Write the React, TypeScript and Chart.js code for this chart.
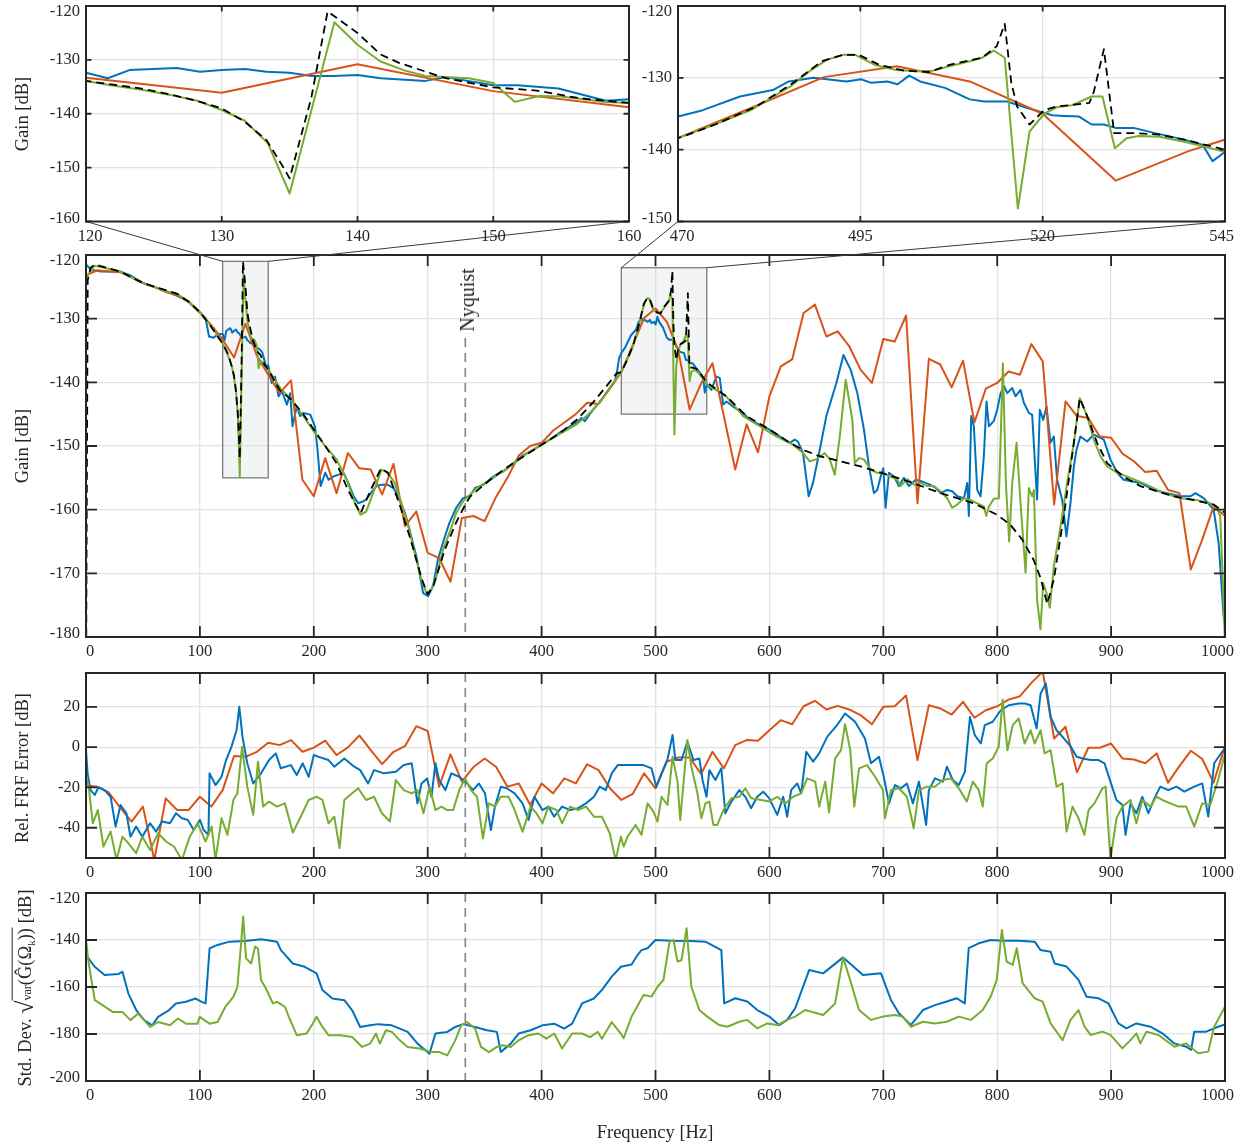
import React, { useEffect, useRef } from "react";
import { Chart, registerables } from "chart.js";

Chart.register(...registerables);

type Pt = [number, number];

const PAGE_W = 1245;
const PAGE_H = 1146;
const SERIF = '"Liberation Serif", "Times New Roman", Times, serif';
const INK = "#262626";
const GRID = "#e2e2e2";
const BLUE = "#0072BD";
const ORANGE = "#D95319";
const GREEN = "#77AC30";
const BLACK = "#000000";
const NYQUIST_HZ = 333;

// ---------- tick labels ----------
const freqTicks = [0, 100, 200, 300, 400, 500, 600, 700, 800, 900, 1000];
const gainTicks = [-180, -170, -160, -150, -140, -130, -120];
const errTicks = [-40, -20, 0, 20];
const stdTicks = [-200, -180, -160, -140, -120];
const zoomLeftFreqTicks = [120, 130, 140, 150, 160];
const zoomLeftGainTicks = [-160, -150, -140, -130, -120];
const zoomRightFreqTicks = [470, 495, 520, 545];
const zoomRightGainTicks = [-150, -140, -130, -120];

// zoom rectangles drawn on the main gain panel [f0, f1, gainLow, gainHigh]
const zoomRects: [number, number, number, number][] = [
  [120, 160, -155, -121],
  [470, 545, -145, -122],
];

// ---------- main gain panel data [Hz, dB] ----------
const trueGain: Pt[] = [
  [0, -190], [1.5, -124], [4, -122], [8, -121.5], [30, -122.6], [50, -124.4], [80, -126.1], [90, -127.3],
  [100, -129], [110, -131.3], [116, -132.9], [120, -133.9], [122, -134.6], [124, -135.3], [126, -136.3],
  [128, -137.5], [130, -139], [131.7, -141.5], [133.3, -144.9], [134.5, -149.8], [135, -152], [136.6, -137],
  [137.8, -121], [140, -125], [141.7, -129], [143.1, -130.6], [146.5, -133.4], [150, -135.1], [153.2, -135.7],
  [156.3, -137.1], [160, -138], [170, -141.2], [180, -142.7], [190, -144.8], [200, -147.4], [210, -150],
  [220, -152.7], [230, -156.9], [241, -160.6], [250, -156.9], [259, -153.5], [265, -154.2], [275, -159],
  [285, -164.7], [295, -171], [300, -173.3], [305, -172], [315, -166.3], [325, -162], [333, -159.2],
  [337, -158], [350, -156], [360.5, -154.5], [375, -152.7], [400, -149.8], [416, -148], [430.7, -145.9],
  [445, -143.2], [457, -140.6], [465.8, -138.6], [470, -138.4], [475.1, -136.5], [480.7, -134], [485.8, -130.7],
  [489.7, -127.7], [492.6, -126.8], [494.8, -126.8], [497.6, -128.2], [501, -129], [504.4, -129.2],
  [507.2, -128.2], [511.7, -127.2], [513.7, -125.6], [514.8, -122.5], [515.7, -130.7], [516.5, -134],
  [518.2, -136.5], [520.2, -134.5], [521.9, -134], [526.4, -133.5], [527, -132], [528.4, -126], [529.8, -137.7],
  [532.6, -137.7], [536, -137.9], [539.4, -138.6], [545, -140], [562.3, -142.2], [579.8, -145.3], [600, -147.4],
  [618, -149.5], [629.5, -150.6], [644, -151.6], [662.6, -152.4], [680, -153.2], [700, -154.3], [721, -155.5],
  [750.3, -157.4], [779.5, -159], [800, -160.8], [811.7, -162.4], [822, -164.7], [832, -167.9], [838, -170.7],
  [843.9, -174.8], [849.7, -171], [858.5, -161], [867.3, -149.5], [872.5, -142.5], [879, -145.3],
  [887.7, -149.5], [896.5, -152.7], [911, -154.8], [925.7, -156.3], [955, -157.9], [969.6, -158.4],
  [990, -159.2], [1000, -160.5],
];

const blueGain: Pt[] = [
  [0, -121.5], [4.4, -122.3], [13, -122.6], [30, -122.6], [39, -123.2], [50, -124.4], [60, -125], [70, -125.7],
  [80, -126.4], [90, -127.3], [100, -129], [105, -129.9], [108, -132.8], [112, -133], [116, -132.4],
  [120, -132.4], [121.6, -133.4], [123.2, -131.9], [126.7, -131.5], [128.4, -132.2], [130, -131.9],
  [131.7, -131.7], [133.3, -132.2], [135, -132.4], [136.6, -133], [138.2, -133], [140, -132.8], [141.7, -133.4],
  [145, -133.9], [146.5, -133.2], [150, -134.7], [151.8, -134.7], [154.8, -135.3], [158.3, -137.6],
  [160, -137.3], [163, -140.1], [166, -139.1], [169, -142.2], [172, -141.4], [176.4, -143.5], [179.3, -141.7],
  [181.3, -146.9], [185, -143.8], [188, -145.3], [191, -144.8], [197, -145.1], [201, -146.9], [203, -150.1],
  [206, -156.3], [210, -154.2], [213, -155.3], [217, -154.8], [222, -154.5], [226, -154.2], [230.3, -155.8],
  [235, -157.9], [239, -159], [243.4, -158.7], [246, -158.4], [250, -157.4], [255, -156.3], [259.5, -156.1],
  [265, -156.1], [270, -156.6], [274, -157.9], [280, -160.5], [284, -163.1], [290, -167.3], [296, -173.1],
  [300.3, -173.6], [304.7, -172], [309, -167.8], [313.4, -165.2], [319, -162.1], [325, -159.7], [331, -158.2],
  [337, -157.9], [341.5, -156.6], [348.8, -156.1], [357.6, -154.8], [366.4, -154], [372.2, -153.2],
  [382.5, -151.6], [392.7, -150.6], [400, -149.8], [407.3, -149], [416, -147.9], [424.9, -146.9],
  [430.7, -146.3], [435, -145.6], [438, -146.1], [441, -145.3], [445.3, -144.3], [452.6, -142.7],
  [458.5, -141.2], [464.3, -139.8], [466, -138.6], [468, -136.2], [470, -135.4], [473.4, -134.5],
  [478.5, -132.6], [483, -131.7], [485.2, -130.5], [488.6, -130], [493.1, -130.5], [495.1, -130.2],
  [496.5, -130.7], [498.7, -130.5], [500.1, -130.9], [501.7, -129.7], [503.2, -130.5], [506.6, -131.4],
  [510, -133], [512, -133.3], [515.1, -133.3], [517.9, -134.2], [521.3, -135.2], [523, -135.3], [525, -135.4],
  [526.7, -136.5], [528.4, -136.5], [530.1, -137], [532.6, -137], [535.4, -137.7], [539.4, -138.6],
  [541.9, -139.3], [543.3, -141.6], [545, -140.3], [549, -141.2], [553.5, -139.1], [556.4, -139.3],
  [559.4, -143.5], [562.3, -143], [568, -143.8], [577, -144.8], [582.7, -145.9], [588.6, -146.4],
  [594.4, -146.9], [599.7, -147.4], [609, -148.5], [617.8, -149.5], [622.2, -149], [625.1, -149.3],
  [629.5, -151.1], [634.5, -157.9], [638.3, -155.8], [644.2, -150.6], [650, -145.3], [658.8, -140.1],
  [665, -135.7], [671.3, -138], [677.2, -141.7], [683, -147.4], [687.4, -153.2], [691.8, -157.4],
  [694.7, -156.9], [697.7, -154.8], [700, -153.5], [702, -159.7], [705, -154.2], [709.4, -154.8],
  [713.7, -156.3], [718.1, -155], [722.5, -156.3], [728.4, -155.3], [732.7, -155.5], [737.1, -155.8],
  [741.5, -156.1], [746, -156.6], [750.3, -157.4], [756.1, -156.9], [760.5, -157.1], [764.9, -157.9],
  [770.8, -158.2], [773.7, -155.8], [775.1, -161], [777.2, -145.3], [779.5, -146.9], [782.5, -156.9],
  [785.4, -157.9], [788.3, -151.6], [790.6, -143], [792.7, -146.9], [797, -146.1], [800, -144.3],
  [803, -141.7], [806, -140.6], [808.8, -141.7], [813.2, -140.9], [816.1, -142.2], [820.5, -141.2],
  [823.4, -143.2], [827.8, -144.8], [830.7, -145.1], [835, -158.4], [837.4, -144.3], [840.4, -145.9],
  [843.3, -143.8], [846.8, -149.5], [849.7, -148.5], [852.6, -155.3], [857, -158.4], [860.8, -164.2],
  [864.3, -159], [867.3, -153.2], [869.6, -150.6], [873, -148.5], [879, -149.3], [884.8, -148.2],
  [893.6, -149], [899.4, -152.1], [905.3, -154.2], [911, -155.3], [925.7, -155.8], [937.4, -156.9],
  [949, -157.4], [960.8, -157.9], [969.6, -157.9], [974, -157.4], [981.3, -158.2], [990, -160],
  [994.4, -165.2], [998.8, -176.8], [1000, -178],
];

const greenGain: Pt[] = [
  [0, -123.6], [3, -122.8], [7.3, -121.7], [13, -121.9], [30, -122.6], [50, -124.4], [70, -125.7], [80, -126.1],
  [90, -127.3], [100, -129], [110, -131.2], [116, -132.8], [120, -133.9], [121.8, -134.7], [124, -135.5],
  [126.2, -136.5], [128.2, -137.6], [130, -139.3], [131.7, -141.3], [133.4, -145.5], [135, -154.8],
  [138.3, -123], [140, -127.2], [141.7, -130.3], [143.5, -132], [145, -133], [148.2, -133.4], [150, -134.3],
  [151.6, -137.8], [153.4, -136.7], [155, -136.8], [158.3, -137.8], [160, -138], [170.6, -140.9],
  [180, -142.7], [190, -145.1], [200, -147.7], [210, -150], [220, -152.1], [229, -155.3], [236, -159],
  [241, -160.8], [246, -160.3], [252, -157.4], [259.5, -153.7], [265, -154.2], [271, -155.8], [277, -159],
  [283, -162.6], [288.6, -166.8], [294.5, -171], [299, -173.1], [303, -172.6], [307.6, -170.5],
  [313.4, -166.3], [319, -163.7], [325, -160.5], [331, -158.7], [343, -156.6], [357.6, -155],
  [372.2, -153.2], [386.8, -151.2], [400, -149.8], [416, -148.1], [430.7, -146.6], [439.5, -145.3],
  [451, -143.2], [462.9, -140.1], [466, -139.3], [470, -138.4], [475, -136.5], [480, -134.5], [485.4, -131.2],
  [488, -129.1], [490.4, -127.5], [492.6, -126.8], [494.3, -126.8], [497, -128.2], [499.9, -128.9],
  [502.7, -129.1], [505, -129], [507.2, -128.4], [510, -127.7], [511.7, -127.2], [513.3, -126.2],
  [514.8, -127.2], [516.6, -148.2], [518.2, -137.5], [520.2, -135], [521.9, -134.1], [524.1, -133.8],
  [526.7, -132.6], [528.2, -132.6], [529.9, -139.8], [531.5, -138.4], [533.2, -138.1], [536, -138.2],
  [539.4, -138.9], [545, -140.3], [562, -142.2], [577, -145.3], [591.5, -146.9], [606, -148.5],
  [620.8, -149.8], [629.5, -151.1], [635.4, -152.4], [641, -152.1], [648.5, -151.1], [653, -152.1],
  [657.4, -154.5], [661.8, -148.5], [667, -139.6], [672.8, -145.9], [674.9, -152.7], [678.7, -151.9],
  [683, -152.1], [688.9, -153.7], [694.7, -154.2], [700, -154.3], [706.4, -154.8], [712.3, -155.3],
  [715.2, -156.3], [721, -155.2], [727, -156.1], [732.7, -155.8], [738.6, -156.3], [744.4, -156.3],
  [750.3, -157.1], [756.1, -158.2], [760.5, -159.7], [764.9, -159.2], [770.8, -158.2], [776.6, -158.5],
  [782.5, -159], [788.3, -159.5], [790.4, -161], [792.7, -159.5], [797, -158.3], [801.5, -158.2],
  [805, -137], [807.6, -155.8], [810.5, -165], [813.2, -155.8], [817, -149.5], [820.5, -159],
  [824.9, -169.9], [827.8, -156.6], [830.7, -157.9], [832.2, -156.9], [835, -174.1], [838, -178.8],
  [840.4, -171.5], [843.3, -173.1], [846.2, -175.4], [849.7, -168.9], [855.6, -162.6], [861.4, -155.8],
  [867.3, -149.5], [872.5, -142.5], [879, -145.3], [884.8, -149], [890.6, -151.6], [896.5, -153.2],
  [905.3, -154.2], [917, -155], [931.6, -156.1], [946.2, -157.4], [960.8, -158.2], [975.4, -158.5],
  [987.1, -159], [992.9, -159.7], [995.8, -161], [998.2, -171.5], [1000, -181],
];

const orangeGain: Pt[] = [
  [0, -123.2], [10, -122.4], [20, -122.6], [30, -122.7], [40, -123.5], [50, -124.4], [60, -125], [70, -125.8],
  [80, -126.3], [90, -127.4], [100, -129.1], [110, -131], [120, -133.3], [130, -136.1], [140, -130.8],
  [150, -135.8], [160, -138.8], [170, -141.7], [180, -139.7], [190, -155.3], [200, -157.9], [210, -151.9],
  [220, -157.4], [230, -151.1], [240, -153.5], [250, -153.7], [260, -157.6], [270, -152.8], [280, -162.6],
  [290, -160.3], [300, -166.8], [310, -167.6], [320, -171.3], [330, -161.3], [340, -161], [350, -161.8],
  [360, -158], [370, -155], [380, -151.5], [390, -150], [400, -149.5], [410, -147.6], [420, -146.3],
  [430, -145], [440, -143.2], [450, -143.4], [460, -141], [470, -138.4], [480, -134.2], [490, -129.9],
  [500, -128.4], [510, -130.5], [520, -135], [530, -144.3], [540, -140.2], [550, -137], [560, -145.3],
  [570, -153.7], [580, -146.6], [590, -151], [600, -142.2], [610, -137.5], [620, -136.4], [630, -129.1],
  [640, -127.8], [650, -132.8], [660, -132], [670, -134.3], [680, -138], [690, -140.1], [700, -133.2],
  [710, -133.6], [720, -129.5], [730, -159], [740, -136.3], [750, -137.2], [760, -140.8], [770, -136.6],
  [780, -146.3], [790, -141], [800, -140.1], [810, -138.3], [820, -138.8], [830, -134], [840, -136.7],
  [850, -159.2], [860, -143], [870, -145.3], [880, -145.6], [890, -148.5], [900, -148.7], [910, -151.2],
  [920, -152.4], [930, -154.1], [940, -153.9], [950, -156.9], [960, -157.4], [970, -169.4], [980, -164.7],
  [990, -159.5], [1000, -161],
];

// ---------- relative FRF error [Hz, dB] ----------
const orangeErr: Pt[] = [
  [0, -19], [10, -19.6], [20, -22.5], [30, -30], [40, -37], [50, -29.5], [60, -56], [70, -25.4], [80, -31.2],
  [90, -31.2], [100, -24.6], [110, -29.5], [120, -21.3], [130, -4.4], [140, -4.8], [150, -2.3], [160, 2.2],
  [170, 1], [180, 3.5], [190, -2.3], [200, -0.2], [210, 3.2], [220, -3.9], [230, -0.1], [240, 5.8],
  [250, -1.5], [260, -8.4], [270, -2.3], [280, 0.5], [290, 10.4], [300, 8], [310, -19.6], [320, -3.6],
  [330, -17.1], [340, -10], [350, -5.6], [360, -9.7], [370, -19.6], [380, -18], [390, -28.7], [400, -18],
  [410, -22.9], [420, -15.5], [430, -18], [440, -8.5], [450, -11.4], [460, -20.4], [470, -26.2],
  [480, -23.2], [490, -13], [500, -20.4], [510, -7.2], [520, -5.1], [530, -5.1], [540, -13.3], [550, -2.3],
  [560, -10.5], [570, 1], [580, 3.5], [590, 3.2], [600, 8.4], [610, 13.4], [620, 11.4], [630, 20.3],
  [640, 23], [650, 18.7], [660, 20.5], [670, 18.7], [680, 15.9], [690, 11.4], [700, 20], [710, 20.3],
  [720, 25.6], [730, -6.4], [740, 20.8], [750, 19.2], [760, 16.2], [770, 22.5], [780, 14.6], [790, 18.3],
  [800, 20.3], [810, 23.6], [820, 25.3], [830, 31.9], [840, 37.5], [850, 4.3], [860, 10.1], [870, -12.5],
  [880, -0.3], [890, -0.3], [900, 1.8], [910, -5.6], [920, -6.1], [930, -8], [940, -3.1], [950, -17.6],
  [960, -9.4], [970, -1.8], [980, -5.9], [990, -17.6], [1000, 0.5],
];

const blueErr: Pt[] = [
  [0, -1.5], [1.4, -13], [4, -21.3], [7.7, -23.7], [11, -19.9], [16.3, -21.3], [21.6, -24.6], [26, -39.4],
  [30.3, -28.7], [35.5, -32.8], [39, -44.4], [44, -39.4], [49.4, -44.4], [56.3, -37.8], [61.6, -41.9],
  [66.8, -36.9], [73.7, -37.8], [79, -32.8], [84.2, -35.3], [89.4, -36.1], [94.6, -41.1], [100, -36.1],
  [103.3, -41.1], [107.5, -43.5], [108.5, -13], [113.7, -18.8], [119, -14.7], [123, -6.4], [127.7, 0.2],
  [132.2, 8.4], [134.6, 20], [137.4, 5.1], [141.6, -8], [146.8, -18], [153.7, -13], [160.7, -6.4],
  [166.6, -3.1], [171, -10.5], [179.8, -8.9], [185, -13.8], [190.3, -8], [195.5, -14.7], [200, -3.9],
  [204.2, -4.8], [212.9, -6.4], [218, -9.7], [226.8, -5.6], [235.5, -9.7], [240.7, -11.4], [247.7, -18],
  [252.9, -11.4], [261.6, -13], [272, -12.2], [279, -8.9], [286, -8], [291, -27.9], [294.6, -18],
  [299.5, -15.5], [303.3, -24.6], [306.8, -8], [310, -16.3], [315.5, -21.3], [320.7, -13], [327.7, -14.7],
  [334.6, -18], [339.8, -21.3], [345, -18], [350.3, -22.9], [355.5, -41.1], [359, -29.5], [364.2, -19.6],
  [369.4, -20.4], [376.3, -22.9], [383.3, -27.9], [388.5, -36.1], [393.7, -24.6], [400.7, -31.2],
  [406, -29.5], [411, -34.5], [418, -29.5], [425, -31.2], [432, -30.3], [439, -27.9], [446, -24.6],
  [451, -19.6], [456.3, -21.3], [461.6, -13], [466.8, -8.9], [479, -8.9], [489.5, -8.9], [496.5, -10.5],
  [500.7, -19.6], [505.3, -13], [510.5, -6.1], [515, 6], [517.5, -6.4], [522.8, -6.4], [528, 2.7],
  [533.3, -6.4], [538.5, -5.6], [541.3, -16.3], [544.8, -24.6], [547.3, -11.4], [552.6, -16.3],
  [557.8, -10.5], [561.3, -32.8], [566.6, -27], [573.6, -21.3], [578.8, -24.6], [584, -30.3], [589.3, -24.6],
  [594.6, -22.1], [599.9, -25.4], [606.9, -33.6], [612.1, -24.6], [615.6, -34.5], [619.1, -21.3],
  [624.4, -18], [627.9, -22.9], [632.4, -2.3], [638.4, -7.2], [643.7, -3.1], [650.7, 5.1], [659.4, 10.9],
  [666.4, 16.7], [675.2, 12.6], [683.9, 4.3], [689.2, -8], [696.2, -4.8], [700.4, -14.7], [705, -27.9],
  [710.2, -18.8], [715.5, -20.4], [720.7, -18], [726, -27.9], [731.3, -17.1], [737.6, -38.6], [740, -21.3],
  [745.3, -15.5], [752.3, -17.1], [755.8, -9.7], [761, -16.3], [766.3, -18.8], [771.6, -12.2], [776.1, 15],
  [780.3, 6], [785.6, 1.8], [789.1, 10.9], [796.1, 12.6], [803.1, 18.3], [810.1, 20.8], [818.9, 21.7],
  [824.1, 21.7], [829.4, 20.8], [834.6, 9.3], [838.1, 26.6], [842.7, 31.6], [846.9, 15], [852.1, 8.4],
  [857.4, 5.1], [864.4, 0.4], [869.7, -4.8], [875, -5.6], [882, -6.4], [889, -6.4], [894.2, -8],
  [899.4, -17.1], [904.7, -26.2], [909.9, -28.7], [912.7, -43.5], [917, -27.9], [922.2, -32.8],
  [927.4, -24.6], [932.7, -32.8], [938, -25.4], [943.2, -19.6], [950.2, -21.3], [957.3, -19.6],
  [964.3, -22.1], [973, -19.6], [980, -18], [985.3, -34.5], [990.5, -8], [997.5, -2.3], [1000, -0.6],
];

const greenErr: Pt[] = [
  [0, -14.7], [2.4, -19.6], [5.9, -37.8], [10.4, -31.2], [15.3, -49.3], [21.6, -41.9], [26.8, -56],
  [32, -44.4], [37.2, -47.7], [44, -52.6], [49.4, -44.4], [56.3, -51], [63.3, -42.7], [70.3, -46.8],
  [77.2, -49.3], [84.2, -56], [91.1, -44.4], [98, -37.8], [105, -46.8], [110.3, -39.4], [113.7, -56],
  [119, -35.3], [124.2, -43.5], [129.4, -26.2], [132.9, -22.9], [137, 0.2], [141.6, -19.6], [146.8, -33.6],
  [151, -7.2], [155.5, -29.5], [160.7, -27], [167.7, -29.5], [174.6, -27.9], [181.6, -42.4], [188.5, -34.5],
  [195.5, -26.2], [202.4, -24.6], [207.6, -26.2], [212.9, -37.8], [218, -34.5], [222.6, -50.1],
  [226.8, -26.2], [233.7, -22.9], [239, -20.4], [245.9, -26.2], [252.9, -24.6], [259.8, -32.8],
  [266.8, -36.9], [272, -16.3], [279, -21.3], [286, -22.9], [291, -21.3], [296.3, -32.8], [301.6, -19.6],
  [306.8, -31.2], [312, -29.5], [317.2, -31.2], [322.4, -31.2], [327.7, -21.3], [332.9, -15.5],
  [338, -21.3], [343.3, -24.6], [348.5, -45.2], [353.7, -27.9], [359, -29.5], [364.2, -24.6], [371, -24.6],
  [376.3, -31.2], [383.3, -41.9], [390.3, -29.5], [395.5, -32.8], [400.7, -37.8], [406, -29.5],
  [413, -31.2], [418, -37.8], [425, -29.5], [432, -31.2], [439, -29.5], [446, -34.5], [452.9, -34.5],
  [459.8, -42.7], [465, -56], [469.6, -44.4], [472, -49.3], [475.5, -44.4], [482.5, -38.6], [487.7, -43.5],
  [493, -27.9], [498.2, -32], [501.8, -36.9], [505.3, -24.6], [510.5, -28.7], [515, -4.8], [519.3, -17.1],
  [521.7, -36.1], [528, 3.5], [531.5, -9.7], [536.8, -22.9], [540.3, -35.3], [543.8, -27.9], [547.3, -27],
  [550.8, -38.6], [554.3, -38.6], [559.6, -31.2], [566.6, -25.4], [573.6, -24.6], [578.8, -20.4],
  [584, -25.4], [593, -26.2], [599.9, -27], [606.9, -24.6], [614, -27.9], [620.9, -24.6], [627.9, -22.9],
  [633.1, -15.5], [640.2, -17.1], [643.7, -29.5], [649, -17.1], [652.4, -32.4], [657.7, -5.6],
  [662.9, -1.5], [666.4, 11.4], [671, -1.5], [674.5, -29.5], [678.7, -10.5], [685.7, -8.9], [692.8, -14.7],
  [699.7, -21.3], [701.5, -35.3], [706.7, -21.3], [713.7, -20.4], [720.7, -24.6], [726.7, -40.2],
  [731.3, -21.3], [738.3, -19.6], [745.3, -19.6], [752.3, -16.3], [759.3, -15.5], [766.3, -20.4],
  [773.3, -27], [778.6, -17.1], [783.8, -21.3], [787.3, -29.5], [790.8, -8], [796.1, -5.6], [801.3, 0.2],
  [804.8, 23.6], [809, -1.5], [813.6, 10.9], [818.9, 14.2], [824.1, 1.8], [829.4, 8.4], [832.9, 1.8],
  [838.1, 8.4], [841.6, -3.1], [846.9, -1.5], [852.1, -19.6], [857.4, -18], [860.9, -41.9], [866.1, -29.5],
  [871.4, -35.3], [876.6, -43.5], [880.2, -31.2], [885.4, -27.9], [892.4, -20.4], [895.2, -19.6],
  [899.4, -56], [904.7, -35.3], [909.9, -29.5], [917, -26.2], [922.2, -37.8], [927.4, -26.2], [934.5, -29.5],
  [939.7, -24.6], [945, -26.2], [952, -27.9], [959, -29.5], [966, -29.5], [973, -39.4], [980, -27.9],
  [987, -28.7], [994, -16.3], [1000, -3.1],
];

// ---------- standard deviation [Hz, dB] ----------
const blueStd: Pt[] = [
  [0, -146.4], [7.7, -151.4], [16.3, -154.9], [28.5, -154.5], [32, -153.5], [37.2, -162.8], [44.2, -169.9],
  [51.1, -174.1], [58.1, -176.3], [63.3, -172.7], [72, -170.2], [79, -167], [87.7, -166.3], [96.3, -164.9],
  [101.6, -166.3], [105, -167], [108.5, -143.6], [115.5, -142.1], [126, -140.7], [139.8, -140.4],
  [153.7, -139.7], [167.7, -140.7], [171.1, -144.3], [181.6, -150], [192, -151.4], [202.4, -154.2],
  [207.6, -161.3], [216.3, -164.9], [226.8, -165.6], [233.7, -169.9], [240.7, -177], [249.4, -176.3],
  [256.3, -175.8], [268.5, -176.3], [282.4, -179.1], [291.1, -184.1], [301.6, -188.4], [306.8, -179.8],
  [317.2, -179.1], [324.2, -177], [331.1, -175.8], [341.6, -177], [352, -178.4], [360.7, -179.1],
  [364.2, -187.7], [372.9, -184.1], [379.8, -179.8], [390.3, -178.4], [400.7, -176.3], [411.1, -175.6],
  [419.8, -177.7], [426.8, -175.6], [435.5, -167], [445.9, -164.9], [452.9, -161.3], [461.6, -155.6],
  [469.6, -151.4], [479, -150.4], [484.2, -146.4], [487.7, -144.3], [493, -143.5], [500, -140], [514, -140.3],
  [531.5, -140.4], [543.8, -140.7], [557.8, -144.3], [560.3, -167], [570.1, -164.8], [580.6, -166.2],
  [589.3, -169.8], [599.9, -172.6], [608.6, -176.2], [615.6, -174], [622.6, -169.1], [634.9, -152.8],
  [647.2, -154.2], [664.7, -147.4], [682.2, -154.9], [698, -154.2], [706.7, -165.5], [713.7, -171.2],
  [724.2, -176.2], [734.8, -169.8], [745.3, -167.7], [755.8, -166.2], [764.5, -164.8], [771.5, -167],
  [775, -143.5], [783.8, -141.4], [794.3, -140], [804.8, -140.3], [818.9, -140.3], [832.9, -140.7],
  [838.1, -144.3], [846.9, -145], [850.4, -150], [860.9, -151.3], [871.4, -157], [878.4, -164.1],
  [888.9, -164.8], [897.7, -167], [906.4, -175.5], [913.4, -177.6], [922.2, -175.5], [934.5, -176.9],
  [945, -179.7], [955.5, -184], [966, -185.4], [970.2, -186.8], [973, -179], [983.5, -179], [994, -176.9],
  [1000, -175.9],
];

const greenStd: Pt[] = [
  [0, -140], [2.4, -150], [7.7, -165.6], [14.6, -167.7], [23.3, -170.6], [32, -170.6], [39, -174.1],
  [45.9, -171.3], [56.3, -177], [63.3, -174.9], [73.7, -176.3], [80.7, -173.4], [87.7, -175.6], [98, -175.6],
  [99.8, -172.7], [108.5, -175.6], [115.5, -174.9], [122.4, -168.4], [129.4, -164.2], [132.9, -159.9],
  [135.7, -144.3], [138, -130], [140.5, -147.8], [145, -150], [148.5, -142.8], [151, -143.6], [153.7, -157.1],
  [157.2, -159.9], [164.2, -167], [167.7, -166.3], [174.6, -168.4], [178.1, -172.7], [185, -180.5],
  [193.7, -179.8], [199, -175.6], [202.4, -172.7], [207.6, -177], [212.9, -180.5], [223.3, -180.5],
  [233.7, -181.3], [242.4, -185.5], [249.4, -184.1], [254.6, -179.8], [258, -184.1], [263.3, -178.4],
  [268.5, -179.1], [275.5, -182.7], [282.4, -185.5], [292.9, -186.2], [303.3, -187.7], [310.3, -187.7],
  [317.2, -189.1], [324.2, -182.7], [329.4, -176.3], [334.6, -174.9], [341.6, -177.7], [346.8, -185.5],
  [353.7, -187.7], [360.7, -185.5], [365.9, -184.8], [372.9, -185.5], [379.8, -182.7], [388.5, -180.5],
  [397.2, -179.8], [404.2, -182], [411.1, -179.8], [418, -186.2], [426.8, -179.8], [435.5, -179.8],
  [442.4, -181.3], [449.4, -179.1], [452.9, -182], [461.6, -174.9], [469.6, -179.8], [472, -181.8],
  [479, -172.6], [489.5, -163.4], [496.5, -164.1], [501.8, -159.9], [507, -157], [512.3, -140.7],
  [515.8, -140], [519.3, -149.2], [522.8, -148.5], [527.3, -135], [531.5, -159.9], [538.5, -169.8],
  [545.5, -172.6], [556, -176.2], [563, -176.9], [573.6, -174.8], [580.6, -174], [589.3, -177.6],
  [598.1, -175.5], [606.9, -176.2], [615.6, -174], [622.6, -172.6], [631.4, -169.8], [647.2, -171.9],
  [657.7, -167], [664.7, -147.4], [670, -155.6], [678.7, -169.8], [689.2, -174], [699.7, -172.6],
  [710.2, -171.9], [717.2, -172.6], [724.2, -176.9], [734.8, -174.8], [745.3, -175.5], [755.8, -174.8],
  [766.3, -172.6], [776.8, -174], [787.3, -169.8], [794.3, -164.1], [799.6, -157], [804.1, -135.7],
  [808.3, -149.2], [813.6, -150.6], [817.1, -143.5], [822.3, -158.4], [832.9, -164.8], [839.9, -166.2],
  [846.9, -175.5], [857.4, -182.6], [864.4, -174], [871.4, -169.8], [876.7, -176.9], [882, -180.4],
  [892.4, -179], [899.4, -180.4], [909.9, -186.1], [917, -182.6], [922.2, -179.7], [925.7, -184],
  [931, -179], [941.6, -180.4], [955.5, -185.4], [966, -184], [976.5, -188.2], [985.3, -187.5],
  [990.5, -176.9], [1000, -168.4],
];

// ---------- helpers ----------
function series(pts: Pt[], color: string, width: number, order: number, dash: number[] = []) {
  return {
    data: pts.map(([x, y]) => ({ x, y })),
    borderColor: color,
    backgroundColor: color,
    borderWidth: width,
    borderDash: dash,
    borderJoinStyle: "round" as const,
    pointRadius: 0,
    pointHoverRadius: 0,
    tension: 0,
    fill: false,
    order,
  };
}

type PanelCfg = {
  id: string;
  box: [number, number, number, number]; // left, top, right, bottom (page px)
  xRange: [number, number];
  yRange: [number, number];
  xTicks: number[];
  yTicks: number[];
  tickLen: number;
  datasets: any[];
  nyquist?: boolean;
  nyquistTop?: number;
  rects?: [number, number, number, number][];
  connectors?: { from: [number, number]; rect: number; side: "l" | "r" }[];
};

function decoPlugin(p: PanelCfg) {
  return {
    id: "deco_" + p.id,
    beforeDatasetsDraw(chart: any) {
      const { ctx, chartArea: a } = chart;
      const xs = chart.scales.x;
      const ys = chart.scales.y;
      ctx.save();
      for (const r of p.rects ?? []) {
        const x0 = xs.getPixelForValue(r[0]);
        const x1 = xs.getPixelForValue(r[1]);
        const y0 = ys.getPixelForValue(r[3]);
        const y1 = ys.getPixelForValue(r[2]);
        ctx.fillStyle = "rgba(214,220,228,0.32)";
        ctx.fillRect(x0, y0, x1 - x0, y1 - y0);
        ctx.strokeStyle = "#7c7c7c";
        ctx.lineWidth = 1.3;
        ctx.strokeRect(x0, y0, x1 - x0, y1 - y0);
      }
      if (p.nyquist) {
        const px = xs.getPixelForValue(NYQUIST_HZ);
        ctx.strokeStyle = "#8a8a8a";
        ctx.lineWidth = 1.7;
        ctx.setLineDash([9, 6]);
        ctx.beginPath();
        ctx.moveTo(px, p.nyquistTop ?? a.top);
        ctx.lineTo(px, a.bottom);
        ctx.stroke();
      }
      ctx.restore();
    },
    afterDatasetsDraw(chart: any) {
      const { ctx, chartArea: a } = chart;
      const xs = chart.scales.x;
      const ys = chart.scales.y;
      ctx.save();
      // inward ticks on all four sides
      ctx.strokeStyle = INK;
      ctx.lineWidth = 1.8;
      ctx.beginPath();
      for (const v of p.xTicks) {
        const px = xs.getPixelForValue(v);
        ctx.moveTo(px, a.bottom);
        ctx.lineTo(px, a.bottom - p.tickLen);
        ctx.moveTo(px, a.top);
        ctx.lineTo(px, a.top + p.tickLen);
      }
      for (const v of p.yTicks) {
        const py = ys.getPixelForValue(v);
        ctx.moveTo(a.left, py);
        ctx.lineTo(a.left + p.tickLen, py);
        ctx.moveTo(a.right, py);
        ctx.lineTo(a.right - p.tickLen, py);
      }
      ctx.stroke();
      // box
      ctx.lineWidth = 2;
      ctx.strokeRect(a.left, a.top, a.right - a.left, a.bottom - a.top);
      // tick labels
      ctx.fillStyle = INK;
      ctx.font = `16.5px ${SERIF}`;
      ctx.textAlign = "center";
      ctx.textBaseline = "middle";
      p.xTicks.forEach((v, i) => {
        const txt = String(v);
        const w = ctx.measureText(txt).width;
        let px = xs.getPixelForValue(v);
        if (i === 0) px += 4;
        if (px + w / 2 > PAGE_W - 11) px = PAGE_W - 11 - w / 2;
        ctx.fillText(txt, px, a.bottom + 15);
      });
      ctx.textAlign = "right";
      for (const v of p.yTicks) {
        let py = ys.getPixelForValue(v);
        py = Math.min(Math.max(py, a.top + 6), a.bottom - 3);
        ctx.fillText(String(v), a.left - 6, py);
      }
      // connector lines from zoom rectangles to the insets
      if (p.connectors && p.rects) {
        ctx.strokeStyle = "#3a3a3a";
        ctx.lineWidth = 1;
        ctx.beginPath();
        for (const c of p.connectors) {
          const r = p.rects[c.rect];
          const px = xs.getPixelForValue(c.side === "l" ? r[0] : r[1]);
          const py = ys.getPixelForValue(r[3]);
          ctx.moveTo(c.from[0], c.from[1]);
          ctx.lineTo(px, py);
        }
        ctx.stroke();
      }
      ctx.restore();
    },
  };
}

function PanelChart({ cfg }: { cfg: PanelCfg }) {
  const ref = useRef<HTMLCanvasElement | null>(null);
  useEffect(() => {
    if (!ref.current) return;
    const [l, t, r, b] = cfg.box;
    const chart = new Chart(ref.current, {
      type: "line",
      data: { datasets: cfg.datasets },
      options: {
        animation: false,
        responsive: false,
        events: [],
        layout: { padding: { left: l, top: t, right: PAGE_W - r, bottom: PAGE_H - b } },
        plugins: { legend: { display: false }, tooltip: { enabled: false } },
        scales: {
          x: {
            type: "linear",
            min: cfg.xRange[0],
            max: cfg.xRange[1],
            ticks: { display: false },
            grid: { color: GRID, lineWidth: 1.3, drawTicks: false },
            border: { display: false },
            afterBuildTicks: (s: any) => {
              s.ticks = cfg.xTicks.map((v) => ({ value: v }));
            },
            afterFit: (s: any) => {
              s.height = 0;
            },
          },
          y: {
            type: "linear",
            min: cfg.yRange[0],
            max: cfg.yRange[1],
            ticks: { display: false },
            grid: { color: GRID, lineWidth: 1.3, drawTicks: false },
            border: { display: false },
            afterBuildTicks: (s: any) => {
              s.ticks = cfg.yTicks.map((v) => ({ value: v }));
            },
            afterFit: (s: any) => {
              s.width = 0;
            },
          },
        },
      } as any,
      plugins: [decoPlugin(cfg)],
    });
    return () => chart.destroy();
  }, [cfg]);
  return (
    <canvas
      ref={ref}
      width={PAGE_W}
      height={PAGE_H}
      style={{ position: "absolute", left: 0, top: 0, width: PAGE_W, height: PAGE_H }}
    />
  );
}

const gainSets = () => [
  series(trueGain, BLACK, 1.8, 0, [8, 5]),
  series(greenGain, GREEN, 2, 1),
  series(orangeGain, ORANGE, 2, 2),
  series(blueGain, BLUE, 2, 3),
];

const PANELS: PanelCfg[] = [
  {
    id: "main",
    box: [86, 255, 1225, 637],
    xRange: [0, 1000],
    yRange: [-180, -120],
    xTicks: freqTicks,
    yTicks: gainTicks,
    tickLen: 11,
    datasets: gainSets(),
    nyquist: true,
    nyquistTop: 338,
    rects: zoomRects,
    connectors: [
      { from: [86, 221.5], rect: 0, side: "l" },
      { from: [629, 221.5], rect: 0, side: "r" },
      { from: [678, 221.5], rect: 1, side: "l" },
      { from: [1225, 221.5], rect: 1, side: "r" },
    ],
  },
  {
    id: "zoomL",
    box: [86, 6, 629, 221.5],
    xRange: [120, 160],
    yRange: [-160, -120],
    xTicks: zoomLeftFreqTicks,
    yTicks: zoomLeftGainTicks,
    tickLen: 5.5,
    datasets: gainSets(),
  },
  {
    id: "zoomR",
    box: [678, 6, 1225, 221.5],
    xRange: [470, 545],
    yRange: [-150, -120],
    xTicks: zoomRightFreqTicks,
    yTicks: zoomRightGainTicks,
    tickLen: 5.5,
    datasets: gainSets(),
  },
  {
    id: "err",
    box: [86, 673, 1225, 858],
    xRange: [0, 1000],
    yRange: [-55, 36.8],
    xTicks: freqTicks,
    yTicks: errTicks,
    tickLen: 11,
    datasets: [series(greenErr, GREEN, 2, 0), series(blueErr, BLUE, 2, 1), series(orangeErr, ORANGE, 2, 2)],
    nyquist: true,
  },
  {
    id: "std",
    box: [86, 893, 1225, 1081],
    xRange: [0, 1000],
    yRange: [-200, -120],
    xTicks: freqTicks,
    yTicks: stdTicks,
    tickLen: 11,
    datasets: [series(greenStd, GREEN, 2, 0), series(blueStd, BLUE, 2, 1)],
    nyquist: true,
  },
];

function VLabel({ cx, cy, size = 18.5, children }: { cx: number; cy: number; size?: number; children: any }) {
  return (
    <div
      style={{
        position: "absolute",
        left: cx,
        top: cy,
        transform: "translate(-50%, -50%) rotate(-90deg)",
        whiteSpace: "nowrap",
        fontFamily: SERIF,
        fontSize: size,
        color: INK,
        lineHeight: 1,
      }}
    >
      {children}
    </div>
  );
}

export default function App() {
  return (
    <div
      style={{
        position: "absolute",
        left: 0,
        top: 0,
        width: PAGE_W,
        height: PAGE_H,
        background: "#ffffff",
        overflow: "hidden",
      }}
    >
      {PANELS.map((p) => (
        <PanelChart key={p.id} cfg={p} />
      ))}
      <VLabel cx={22} cy={114}>Gain [dB]</VLabel>
      <VLabel cx={22} cy={446}>Gain [dB]</VLabel>
      <VLabel cx={22} cy={768}>Rel. FRF Error [dB]</VLabel>
      <VLabel cx={24} cy={988}>
        <span>Std. Dev. </span>
        <span style={{ fontSize: 24, position: "relative", top: 2 }}>√</span>
        <span style={{ borderTop: `1px solid ${INK}`, paddingTop: 2 }}>
          <span style={{ fontSize: 12 }}>var</span>(Ĝ(Ω<sub style={{ fontSize: 11 }}>k</sub>))
        </span>
        <span> [dB]</span>
      </VLabel>
      <VLabel cx={467} cy={300} size={20}>Nyquist</VLabel>
      <div
        style={{
          position: "absolute",
          left: 655,
          top: 1132,
          transform: "translate(-50%, -50%)",
          whiteSpace: "nowrap",
          fontFamily: SERIF,
          fontSize: 18.5,
          color: INK,
          lineHeight: 1,
        }}
      >
        Frequency [Hz]
      </div>
    </div>
  );
}
